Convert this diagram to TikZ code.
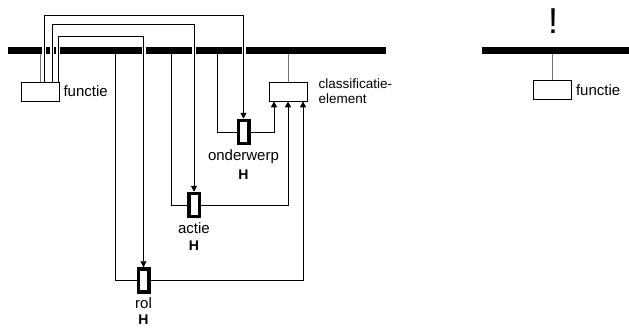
\documentclass[tikz,border=0pt]{standalone}
\usepackage{fontspec}
\setmainfont{Liberation Sans}
\usetikzlibrary{positioning, arrows.meta}

\begin{document}
\begin{tikzpicture}[x=1pt, y=-1pt,
      every node/.style={font=\fontsize{15}{15}\selectfont, inner sep=3pt},
      bar/.style={fill=black, inner sep=0pt, minimum height=7pt},
      fbox/.style={draw, fill=white, inner sep=0pt, line width=0.7pt, minimum width=38pt, minimum height=19pt},
      hbox/.style={draw, fill=white, inner sep=0pt, line width=3.5pt, minimum width=10.5pt, minimum height=23pt},
      hmark/.style={font=\fontsize{14}{14}\selectfont\bfseries, inner sep=2pt},
      tap/.style={draw=black!55, line width=0.8pt},
      link/.style={line width=0.8pt},
      wire/.style={line width=0.8pt, -{Triangle[length=6pt, width=6pt]}},
      halo/.style={preaction={draw=white, line width=4pt, -}}]
    \useasboundingbox (0,0) rectangle (629,327);
    % buses
    \node[bar, minimum width=378pt] (busL) at (197,50) {};
    \node[bar, minimum width=147pt] (busR) at (555.5,50) {};
    \node[font=\fontsize{36}{36}\selectfont] (excl) at (553,21) {!};
    % boxes
    \node[fbox] (fun) at (40,91.5) {};
    \node[right=1pt of fun] (funlbl) {functie};
    \node[fbox] (cls) at (288,91.5) {};
    \node[right=8pt of cls, align=left, font=\fontsize{13.5}{15}\selectfont] (clslbl) {classificatie-\\element};
    \node[fbox] (funR) at (552.5,90) {};
    \node[right=1pt of funR] (funRlbl) {functie};
    % H elements
    \node[hbox] (ond) at (243.5,132) {};
    \node[below=1pt of ond] (ondlbl) {onderwerp};
    \node[hmark, below=1.5pt of ondlbl] (ondH) {H};
    \node[hbox] (act) at (194,205) {};
    \node[below=1pt of act] (actlbl) {actie};
    \node[hmark, below=1.5pt of actlbl] (actH) {H};
    \node[hbox] (rol) at (143.5,280.5) {};
    \node[below=0.5pt of rol] (rollbl) {rol};
    \node[hmark, below=0.5pt of rollbl] (rolH) {H};
    % taps from the buses
    \draw[tap] (busL.south -| fun.north) -- (fun.north);
    \draw[tap] (busL.south -| cls.north) -- (cls.north);
    \draw[tap] (busR.south -| funR.north) -- (funR.north);
    % wires from functie over the bus
    \draw[wire, halo] ([xshift=4pt]fun.north) -- ++(0,-66) -| (ond.north);
    \draw[wire, halo] ([xshift=12pt]fun.north) -- ++(0,-57) -| (act.north);
    \draw[wire, halo] ([xshift=18pt]fun.north) -- ++(0,-45) -| (rol.north);
    % from the bus through H to classificatie-element
    \draw[link] (busL.south -| 217,0) |- (ond.west);
    \draw[wire] (ond.east) -| ([xshift=-14pt]cls.south);
    \draw[link] (busL.south -| 171,0) |- (act.west);
    \draw[wire] (act.east) -| (cls.south);
    \draw[link] (busL.south -| 115,0) |- (rol.west);
    \draw[wire] (rol.east) -| ([xshift=15pt]cls.south);
\end{tikzpicture}
\end{document}
